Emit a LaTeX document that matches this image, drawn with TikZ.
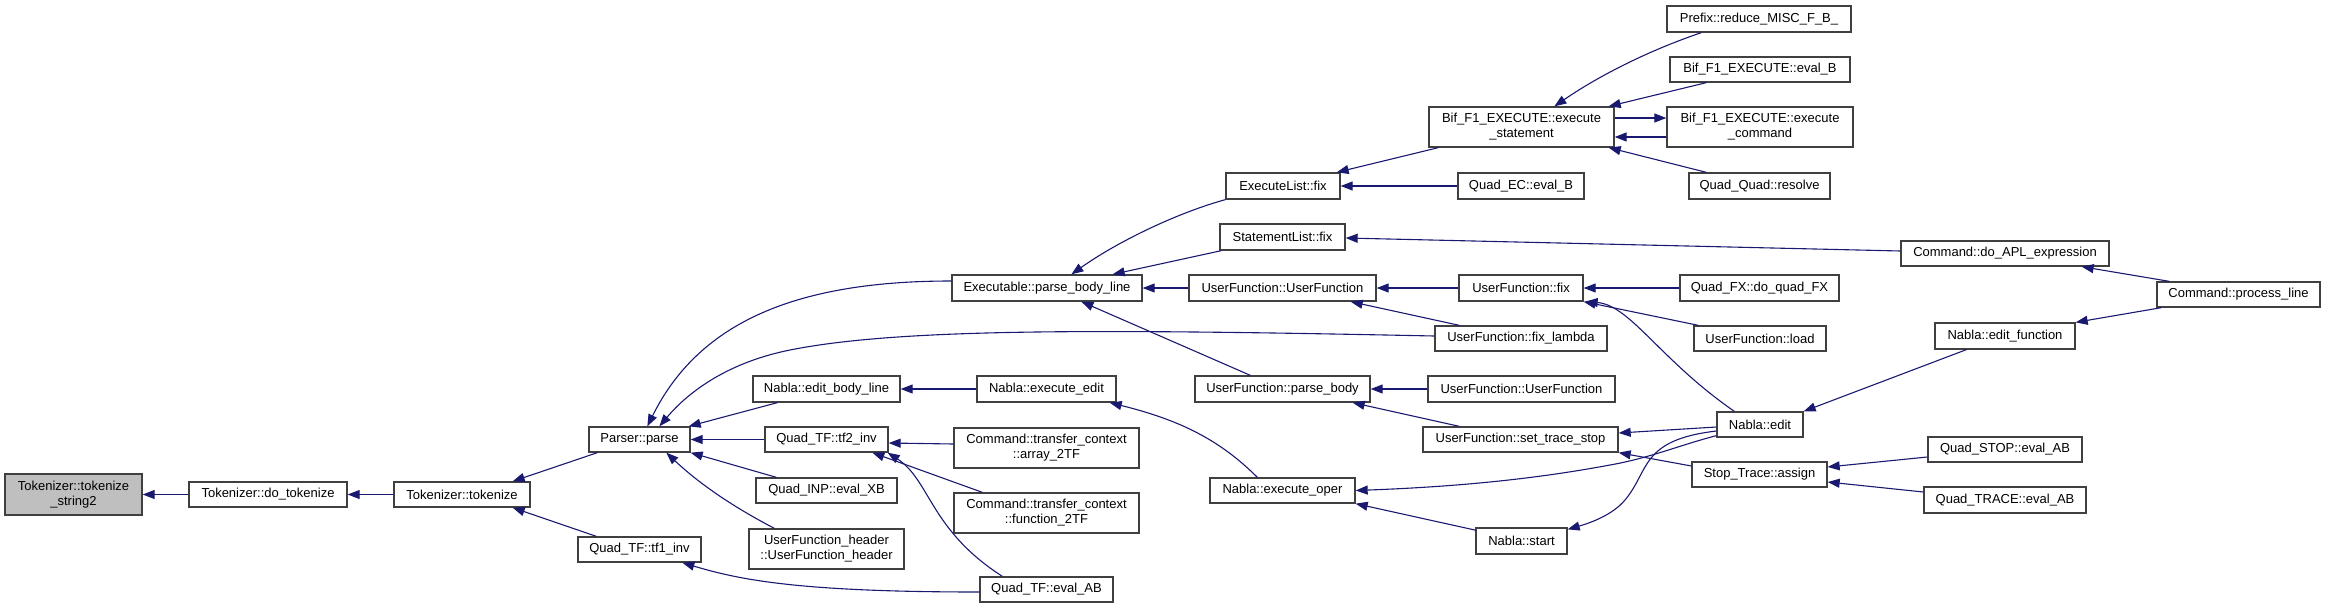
\documentclass[tikz,border=0pt]{standalone}
\usepackage{fontspec}
\setmainfont{Liberation Sans}
\usetikzlibrary{arrows.meta}
\definecolor{edgec}{HTML}{191970}
\definecolor{bord}{HTML}{404040}
\definecolor{rootfill}{HTML}{BFBFBF}
\begin{document}
\begin{tikzpicture}[x=1pt,y=-1pt,
  box/.style={draw=bord, line width=1.3pt, fill=white, inner sep=0pt, align=center,
    font=\fontsize{13}{15}\selectfont},
  e/.style={draw=edgec, line width=1.1pt, -{Triangle[length=12pt,width=9pt]}}]
\useasboundingbox (0,0) rectangle (2325,608);
% nodes
\node[box,minimum width=137pt,minimum height=41pt,fill=rootfill] (ts2) at (73.5,494.5) {Tokenizer::tokenize\\\_string2};
\node[box,minimum width=158pt,minimum height=25pt] (dotok) at (268,494.5) {Tokenizer::do\_tokenize};
\node[box,minimum width=136pt,minimum height=25pt] (tok) at (462,494.5) {Tokenizer::tokenize};
\node[box,minimum width=101pt,minimum height=25pt] (parse) at (639.5,439.5) {Parser::parse};
\node[box,minimum width=123pt,minimum height=25pt] (tf1) at (639.5,549.5) {Quad\_TF::tf1\_inv};
\node[box,minimum width=190pt,minimum height=26pt] (pbl) at (1047,288) {Executable::parse\_body\_line};
\node[box,minimum width=147pt,minimum height=26pt] (ebl) at (826.5,389) {Nabla::edit\_body\_line};
\node[box,minimum width=123pt,minimum height=25pt] (tf2) at (826.5,439.5) {Quad\_TF::tf2\_inv};
\node[box,minimum width=141pt,minimum height=25pt] (inp) at (826.5,490.5) {Quad\_INP::eval\_XB};
\node[box,minimum width=155pt,minimum height=40pt] (ufh) at (826.5,549) {UserFunction\_header\\::UserFunction\_header};
\node[box,minimum width=139pt,minimum height=26pt] (eedit) at (1046.5,389) {Nabla::execute\_edit};
\node[box,minimum width=185pt,minimum height=40pt] (arr) at (1046.5,448) {Command::transfer\_context\\::array\_2TF};
\node[box,minimum width=185pt,minimum height=40pt] (fun) at (1046.5,513) {Command::transfer\_context\\::function\_2TF};
\node[box,minimum width=133pt,minimum height=25pt] (evab) at (1046.5,589.5) {Quad\_TF::eval\_AB};
\node[box,minimum width=114pt,minimum height=26pt] (exfix) at (1283,186) {ExecuteList::fix};
\node[box,minimum width=125pt,minimum height=26pt] (stfix) at (1282.5,237) {StatementList::fix};
\node[box,minimum width=187pt,minimum height=26pt] (uf1) at (1282.5,288) {UserFunction::UserFunction};
\node[box,minimum width=175pt,minimum height=26pt] (upb) at (1282.5,389) {UserFunction::parse\_body};
\node[box,minimum width=145pt,minimum height=25pt] (eoper) at (1282.5,490.5) {Nabla::execute\_oper};
\node[box,minimum width=185pt,minimum height=40pt] (exst) at (1521.5,127) {Bif\_F1\_EXECUTE::execute\\\_statement};
\node[box,minimum width=126pt,minimum height=26pt] (qec) at (1521,186) {Quad\_EC::eval\_B};
\node[box,minimum width=124pt,minimum height=26pt] (uffix) at (1521,288) {UserFunction::fix};
\node[box,minimum width=172pt,minimum height=25pt] (flam) at (1521,338.5) {UserFunction::fix\_lambda};
\node[box,minimum width=187pt,minimum height=26pt] (uf2) at (1521.5,389) {UserFunction::UserFunction};
\node[box,minimum width=195pt,minimum height=25pt] (sts) at (1520.5,439.5) {UserFunction::set\_trace\_stop};
\node[box,minimum width=91pt,minimum height=26pt] (start) at (1521.5,541) {Nabla::start};
\node[box,minimum width=184pt,minimum height=26pt] (prefix) at (1759,19) {Prefix::reduce\_MISC\_F\_B\_};
\node[box,minimum width=180pt,minimum height=25pt] (evb) at (1760,69.5) {Bif\_F1\_EXECUTE::eval\_B};
\node[box,minimum width=186pt,minimum height=40pt] (excmd) at (1760,127) {Bif\_F1\_EXECUTE::execute\\\_command};
\node[box,minimum width=141pt,minimum height=26pt] (qquad) at (1759.5,186) {Quad\_Quad::resolve};
\node[box,minimum width=159pt,minimum height=26pt] (qfx) at (1759.5,288) {Quad\_FX::do\_quad\_FX};
\node[box,minimum width=132pt,minimum height=25pt] (load) at (1760,338.5) {UserFunction::load};
\node[box,minimum width=86pt,minimum height=25pt] (nedit) at (1760,424.5) {Nabla::edit};
\node[box,minimum width=135pt,minimum height=25pt] (assign) at (1759.5,474.5) {Stop\_Trace::assign};
\node[box,minimum width=208pt,minimum height=25pt] (apl) at (2005,253.5) {Command::do\_APL\_expression};
\node[box,minimum width=140pt,minimum height=26pt] (nef) at (2005,336) {Nabla::edit\_function};
\node[box,minimum width=154pt,minimum height=25pt] (qstop) at (2005,449.5) {Quad\_STOP::eval\_AB};
\node[box,minimum width=162pt,minimum height=26pt] (qtrace) at (2005,500) {Quad\_TRACE::eval\_AB};
\node[box,minimum width=163pt,minimum height=25pt] (pline) at (2238.5,294.5) {Command::process\_line};
% edges
\draw[e] (dotok.west) -- (ts2.east);
\draw[e] (tok.west) -- (dotok.east);
\draw[e] ([shift={(9,0)}]parse.south west) -- ([shift={(-18,0)}]tok.north east);
\draw[e] ([shift={(19,0)}]tf1.north west) -- ([shift={(-18,0)}]tok.south east);
\draw[e] ([shift={(0,-7)}]pbl.west) .. controls (800,281) and (700,320) .. ([shift={(59,0)}]parse.north west);
\draw[e] ([shift={(0,-2.5)}]flam.west) .. controls (1100,329) and (900,328) .. (790,350) .. controls (730,362) and (690,390) .. ([shift={(71,0)}]parse.north west);
\draw[e] ([shift={(25,0)}]ebl.south west) -- ([shift={(-2,0)}]parse.north east);
\draw[e] (tf2.west) -- (parse.east);
\draw[e] ([shift={(21,0)}]inp.north west) -- (parse.south east);
\draw[e] ([shift={(26,0)}]ufh.north west) .. controls (720,500) and (690,475) .. ([shift={(78,0)}]parse.south west);
\draw[e] ([shift={(0,2.5)}]evab.west) .. controls (800,592) and (740,580) .. ([shift={(105,0)}]tf1.south west);
\draw[e] ([shift={(0,-4)}]arr.west) -- ([shift={(0,3.5)}]tf2.east);
\draw[e] ([shift={(29,0)}]fun.north west) -- ([shift={(108,0)}]tf2.south west);
\draw[e] ([shift={(23,0)}]evab.north west) .. controls (930,530) and (930,480) .. ([shift={(-1,0)}]tf2.south east);
\draw[e] (eedit.west) -- (ebl.east);
\draw[e] ([shift={(48,0)}]eoper.north west) .. controls (1220,440) and (1180,420) .. ([shift={(-7,0)}]eedit.south east);
\draw[e] (exfix.south west) .. controls (1180,212) and (1120,240) .. ([shift={(120,0)}]pbl.north west);
\draw[e] ([shift={(2,0)}]stfix.south west) -- ([shift={(-30,0)}]pbl.north east);
\draw[e] (uf1.west) -- (pbl.east);
\draw[e] ([shift={(56,0)}]upb.north west) -- ([shift={(130,0)}]pbl.south west);
\draw[e] ([shift={(10,0)}]exst.south west) -- ([shift={(-4,0)}]exfix.north east);
\draw[e] (qec.west) -- (exfix.east);
\draw[e] ([shift={(0,-2.5)}]apl.west) -- ([shift={(0,1)}]stfix.east);
\draw[e] (uffix.west) -- (uf1.east);
\draw[e] ([shift={(25,0)}]flam.north west) -- ([shift={(-26,0)}]uf1.south east);
\draw[e] (qfx.west) -- (uffix.east);
\draw[e] ([shift={(5,0)}]load.north west) -- (uffix.south east);
\draw[e] ([shift={(18,0)}]nedit.north west) .. controls (1660,360) and (1630,305) .. ([shift={(2,0)}]uffix.south east);
\draw[e] (uf2.west) -- (upb.east);
\draw[e] ([shift={(37,0)}]sts.north west) -- ([shift={(-18,0)}]upb.south east);
\draw[e] ([shift={(0,2.5)}]nedit.west) -- ([shift={(0,-6.5)}]sts.east);
\draw[e] ([shift={(0,-8.5)}]assign.west) -- (sts.south east);
\draw[e] ([shift={(0,-2)}]nedit.south west) .. controls (1680,445) and (1650,458) .. (1610,465) .. controls (1530,480) and (1450,487) .. (eoper.east);
\draw[e] ([shift={(1,3)}]start.north west) -- (eoper.south east);
\draw[e] ([shift={(0,6.5)}]nedit.west) .. controls (1640,440) and (1650,470) .. (1625,500) .. controls (1612.5,515) and (1590,523) .. ([shift={(0,2)}]start.north east);
\draw[e] ([shift={(35,0)}]prefix.south west) .. controls (1650,50) and (1600,75) .. ([shift={(126,0)}]exst.north west);
\draw[e] ([shift={(37,0)}]evb.south west) -- ([shift={(-6,0)}]exst.north east);
\draw[e] ([shift={(0,-9)}]exst.east) -- ([shift={(0,-9)}]excmd.west);
\draw[e] ([shift={(0,10)}]excmd.west) -- ([shift={(0,10)}]exst.east);
\draw[e] ([shift={(18,0)}]qquad.north west) -- ([shift={(-6,0)}]exst.south east);
\draw[e] ([shift={(13,0)}]pline.north west) -- ([shift={(-28,0)}]apl.south east);
\draw[e] ([shift={(32,0)}]nef.south west) -- (nedit.north east);
\draw[e] ([shift={(5,0)}]pline.south west) -- (nef.north east);
\draw[e] ([shift={(0,7.5)}]qstop.west) -- ([shift={(0,-7.5)}]assign.east);
\draw[e] ([shift={(0,-8)}]qtrace.west) -- ([shift={(0,7.5)}]assign.east);
\end{tikzpicture}
\end{document}
